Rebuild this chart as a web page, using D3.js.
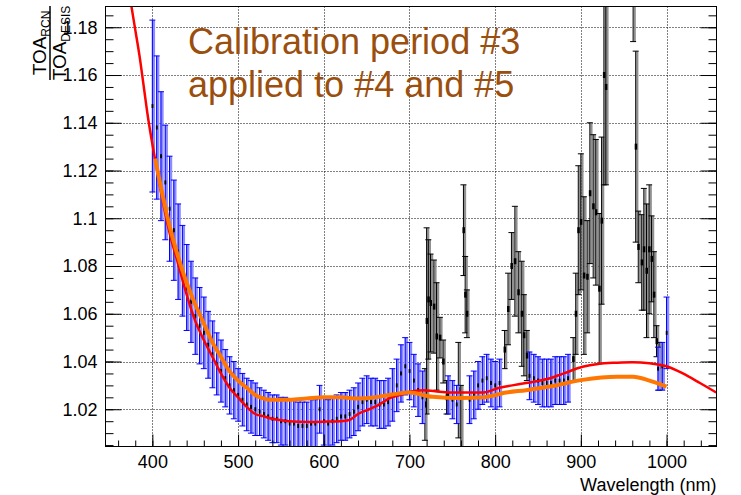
<!DOCTYPE html>
<html lang="en">
<head>
<meta charset="UTF-8">
<title>TOA ratio</title>
<script src="https://cdn.jsdelivr.net/npm/d3@7"></script>
<style>
  body { margin: 0; background: #fff; }
  text { font-family: "Liberation Sans", Arial, sans-serif; }
</style>
</head>
<body>
<script>
// blue series: DESIS bands used for calibration
var wlBlue = [400,405,410,415,420,425,430,435,440,445,450,455,460,465,470,475,480,485,490,495,
  500,505,510,515,520,525,530,535,540,545,550,555,560,565,570,575,580,585,590,595,
  600,605,610,615,620,625,630,635,640,645,650,655,660,665,670,675,680,685,690,695,
  700,705,710,715,745,750,755,770,775,780,785,790,795,800,805,
  840,845,850,855,860,865,870,875,880,885,990,995,1000];
var valBlue = [1.147,1.138,1.126,1.115,1.104,1.095,1.086,1.078,1.071,1.065,1.059,1.055,1.052,1.047,1.043,1.039,1.036,1.033,1.030,1.028,
  1.026,1.024,1.022,1.021,1.020,1.019,1.018,1.017,1.016,1.016,1.015,1.015,1.014,1.014,1.013,1.013,1.013,1.014,1.014,1.020,
  1.015,1.014,1.015,1.016,1.017,1.017,1.018,1.019,1.021,1.023,1.024,1.023,1.023,1.022,1.022,1.023,1.026,1.030,1.035,1.038,
  1.036,1.032,1.028,1.025,1.026,1.024,1.022,1.024,1.026,1.030,1.032,1.033,1.031,1.030,1.031,
  1.034,1.033,1.032,1.031,1.031,1.031,1.032,1.032,1.032,1.033,1.037,1.038,1.052];
var errBlue = [0.036,0.030,0.027,0.024,0.022,0.021,0.020,0.019,0.018,0.017,0.016,0.016,0.015,0.014,0.014,0.013,0.013,0.012,0.012,0.012,
  0.011,0.011,0.011,0.011,0.011,0.010,0.010,0.010,0.010,0.010,0.010,0.010,0.010,0.010,0.010,0.010,0.010,0.010,0.010,0.010,
  0.010,0.010,0.010,0.010,0.010,0.010,0.010,0.010,0.010,0.010,0.010,0.010,0.010,0.010,0.010,0.010,0.011,0.011,0.012,0.012,
  0.012,0.011,0.011,0.011,0.008,0.008,0.008,0.010,0.010,0.010,0.010,0.010,0.010,0.010,0.010,
  0.010,0.010,0.010,0.010,0.010,0.010,0.010,0.010,0.010,0.010,0.009,0.010,0.015];

// black series: bands in the absorption regions
var wlBlack = [718,720,722,724.6,728.5,731.6,735.5,739.3,743.3,
  757,760,763,765,767,
  811,815,819,823,827,831,833.5,837,
  891,894,897,900,903.5,907.4,910.5,914.4,917.5,921.4,924.2,926.9,929.2,
  961,964,967,971,973.5,976.6,979.7,982.5,985.2,988.3,991.4];
var valBlack = [1.022,1.057,1.066,1.0645,1.063,1.0505,1.050,1.040,1.025,
  1.028,0.985,1.095,1.068,1.060,
  1.045,1.062,1.080,1.082,1.069,1.060,1.051,1.0425,
  1.041,1.060,1.095,1.0985,1.076,1.0755,1.1105,1.105,1.1025,1.0705,1.099,1.160,1.155,
  1.200,1.130,1.088,1.0815,1.087,1.078,1.087,1.083,1.068,1.0485,1.038];
var errBlack = [0.015,0.039,0.025,0.0205,0.0195,0.0225,0.0085,0.009,0.007,
  0.020,0.045,0.019,0.016,0.010,
  0.008,0.015,0.014,0.023,0.017,0.022,0.017,0.0105,
  0.009,0.017,0.027,0.0285,0.033,0.0235,0.0295,0.030,0.0305,0.0315,0.035,0.046,0.041,
  0.026,0.040,0.015,0.020,0.0255,0.028,0.027,0.018,0.018,0.0065,0.010];

// red fit
var wlRed = [375,380,385,390,395,400,405,410,420,430,440,450,460,470,480,490,500,510,520,530,540,560,580,600,620,630,640,653,665,677,690,700,716,730,747,770,786,805,820,836,864,880,902,920,942,960,980,1000,1019,1039,1058];
var valRed = [1.190,1.179,1.168,1.155,1.142,1.131,1.121,1.111,1.094,1.081,1.068,1.057,1.049,1.042,1.035,1.029,1.025,1.021,1.018,1.017,1.016,1.015,1.0147,1.0148,1.015,1.0155,1.018,1.020,1.022,1.0247,1.026,1.0273,1.028,1.0275,1.027,1.027,1.027,1.029,1.030,1.031,1.033,1.035,1.0378,1.039,1.0395,1.0397,1.0393,1.038,1.035,1.031,1.027];

// orange fit
var wlOrange = [403,410,420,430,440,450,460,470,480,490,500,510,520,530,537,560,580,600,620,640,660,680,700,727,759,786,813,836,864,902,942,961,980,1000];
var valOrange = [1.125,1.113,1.097,1.084,1.073,1.064,1.056,1.048,1.042,1.036,1.032,1.029,1.026,1.0245,1.024,1.024,1.0245,1.025,1.025,1.0245,1.025,1.0262,1.027,1.0252,1.0247,1.025,1.027,1.028,1.0295,1.0323,1.0336,1.0336,1.032,1.0295];

var xTicks = [400,500,600,700,800,900,1000];
var xLabels = ["400","500","600","700","800","900","1000"];
var yTicks = [1.02,1.04,1.06,1.08,1.1,1.12,1.14,1.16,1.18];
var yLabels = ["1.02","1.04","1.06","1.08","1.1","1.12","1.14","1.16","1.18"];

var W = 741, H = 495;
var L = 105.5, R = 716.5, T = 6.5, B = 446.5;

var svg = d3.select("body").append("svg")
    .attr("width", W)
    .attr("height", H);

var x = d3.scaleLinear().domain([345.3, 1058.3]).range([L, R]);
var y = d3.scaleLinear().domain([1.0044, 1.1887]).range([B, T]);

svg.append("clipPath").attr("id", "plot")
  .append("rect").attr("x", L).attr("y", T).attr("width", R - L).attr("height", B - T);

// grid
var grid = svg.append("g").attr("stroke", "#000").attr("stroke-dasharray", "1,2").attr("stroke-width", 1);
grid.selectAll(".gx").data(xTicks).enter().append("line")
  .attr("x1", function (d) { return Math.round(x(d)) + 0.5; })
  .attr("x2", function (d) { return Math.round(x(d)) + 0.5; })
  .attr("y1", T).attr("y2", B);
grid.selectAll(".gy").data(yTicks).enter().append("line")
  .attr("y1", function (d) { return Math.round(y(d)) + 0.5; })
  .attr("y2", function (d) { return Math.round(y(d)) + 0.5; })
  .attr("x1", L).attr("x2", R);

var plot = svg.append("g").attr("clip-path", "url(#plot)");

// black points
var black = plot.append("g");
wlBlack.forEach(function (w, i) {
  var cx = x(w), v = valBlack[i], e = errBlack[i];
  var y1 = y(v + e), y2 = y(v - e);
  black.append("rect").attr("x", cx + 0.5).attr("y", y1).attr("width", 2.2).attr("height", y2 - y1).attr("fill", "#909090");
  black.append("line").attr("x1", cx).attr("x2", cx).attr("y1", y1).attr("y2", y2).attr("stroke", "#000").attr("stroke-width", 1);
  [y1, y2].forEach(function (yy) {
    black.append("line").attr("x1", cx - 3).attr("x2", cx + 3).attr("y1", yy).attr("y2", yy).attr("stroke", "#000").attr("stroke-width", 1);
  });
  black.append("rect").attr("x", cx - 1).attr("y", y(v) - 3).attr("width", 2.5).attr("height", 6).attr("fill", "#000");
});

// blue points
var blue = plot.append("g");
wlBlue.forEach(function (w, i) {
  var cx = x(w), v = valBlue[i], e = errBlue[i];
  var y1 = y(v + e), y2 = y(v - e);
  blue.append("rect").attr("x", cx - 0.5).attr("y", y1).attr("width", 3.2).attr("height", y2 - y1).attr("fill", "#8c8cff");
  blue.append("line").attr("x1", cx).attr("x2", cx).attr("y1", y1).attr("y2", y2).attr("stroke", "#0000ff").attr("stroke-width", 1);
  [y1, y2].forEach(function (yy) {
    blue.append("line").attr("x1", cx - 3).attr("x2", cx + 3).attr("y1", yy).attr("y2", yy).attr("stroke", "#0000ff").attr("stroke-width", 1);
  });
  blue.append("rect").attr("x", cx - 0.8).attr("y", y(v) - 2).attr("width", 1.8).attr("height", 4).attr("fill", "#000");
});

// fits
var line = d3.line().x(function (d) { return x(d[0]); }).y(function (d) { return y(d[1]); }).curve(d3.curveMonotoneX);
plot.append("path").datum(d3.zip(wlRed, valRed)).attr("d", line)
  .attr("fill", "none").attr("stroke", "#ff0000").attr("stroke-width", 2.5);
plot.append("path").datum(d3.zip(wlOrange, valOrange)).attr("d", line)
  .attr("fill", "none").attr("stroke", "#ff7700").attr("stroke-width", 4);

// axes (ticks inside the frame, ROOT style)
svg.append("g").attr("transform", "translate(" + L + ",0)")
  .call(d3.axisLeft(y).tickValues(yTicks).tickSizeInner(-16).tickSizeOuter(0).tickPadding(8)
    .tickFormat(function (d, i) { return yLabels[i]; }));
svg.append("g").attr("transform", "translate(" + L + ",0)")
  .call(d3.axisLeft(y).tickValues(d3.range(1.005, 1.189, 0.005)).tickSizeInner(-8).tickSizeOuter(0).tickFormat(""));
svg.append("g").attr("transform", "translate(" + R + ",0)")
  .call(d3.axisRight(y).tickValues(yTicks).tickSizeInner(-16).tickSizeOuter(0).tickFormat(""));
svg.append("g").attr("transform", "translate(" + R + ",0)")
  .call(d3.axisRight(y).tickValues(d3.range(1.005, 1.189, 0.005)).tickSizeInner(-8).tickSizeOuter(0).tickFormat(""));
svg.append("g").attr("transform", "translate(0," + B + ")")
  .call(d3.axisBottom(x).tickValues(xTicks).tickSizeInner(-12).tickSizeOuter(0).tickPadding(9)
    .tickFormat(function (d, i) { return xLabels[i]; }));
svg.append("g").attr("transform", "translate(0," + B + ")")
  .call(d3.axisBottom(x).tickValues(d3.range(360, 1060, 20)).tickSizeInner(-6).tickSizeOuter(0).tickFormat(""));

svg.selectAll(".domain").remove();
svg.selectAll(".tick line").attr("stroke", "#000");
svg.selectAll(".tick text").attr("font-size", 18).attr("fill", "#000")
  .attr("font-family", "'Liberation Sans', Arial, sans-serif");

// frame
svg.append("rect").attr("x", L).attr("y", T).attr("width", R - L).attr("height", B - T)
  .attr("fill", "none").attr("stroke", "#000").attr("stroke-width", 1);

// x title
svg.append("text").attr("x", R).attr("y", 491).attr("text-anchor", "end")
  .attr("font-size", 18).text("Wavelength (nm)");

// y title: TOA_RCN / TOA_DESIS
var yt = svg.append("g").attr("transform", "translate(50,80) rotate(-90)");
yt.append("line").attr("x1", 0).attr("x2", 74).attr("y1", 0).attr("y2", 0).attr("stroke", "#000").attr("stroke-width", 1.5);
var num = yt.append("text").attr("x", 37).attr("y", -4).attr("text-anchor", "middle").attr("font-size", 19);
num.append("tspan").text("TOA");
num.append("tspan").attr("font-size", 12).attr("dy", 4).text("RCN");
var den = yt.append("text").attr("x", 37).attr("y", 16).attr("text-anchor", "middle").attr("font-size", 19);
den.append("tspan").text("TOA");
den.append("tspan").attr("font-size", 12).attr("dy", 4).text("DESIS");

// annotation
var ann = svg.append("text").attr("font-size", 36).attr("fill", "#9a4f0e");
ann.append("tspan").attr("x", 188).attr("y", 54).text("Calibration period #3");
ann.append("tspan").attr("x", 188).attr("y", 97).text("applied to #4 and #5");
</script>
</body>
</html>
